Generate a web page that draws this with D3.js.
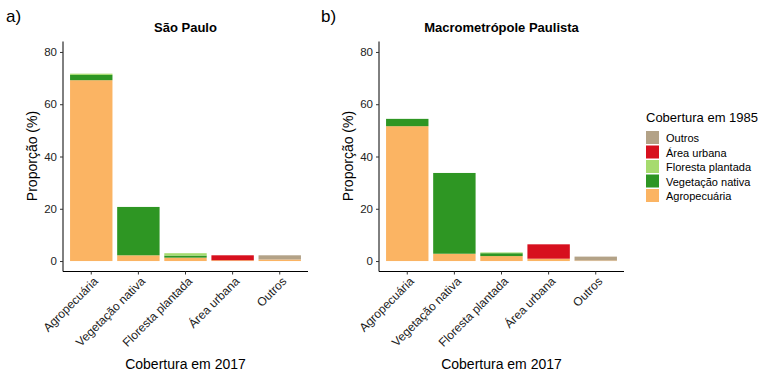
<!DOCTYPE html>
<html><head><meta charset="utf-8">
<script src="https://cdn.jsdelivr.net/npm/d3@7"></script>
<style>body{margin:0;background:#fff;} text{font-family:"Liberation Sans",Arial,sans-serif;}</style>
</head><body><svg id="c" width="780" height="380"></svg>
<script>
const categories = ["Agropecuária","Vegetação nativa","Floresta plantada","Área urbana","Outros"];
const stackKeys = ["Agropecuária","Vegetação nativa","Floresta plantada","Área urbana","Outros"];
const legendOrder = ["Outros","Área urbana","Floresta plantada","Vegetação nativa","Agropecuária"];
const colors = ["#FBB463","#2E9623","#A6DB6E","#D7101E","#B3A287"];
// values per 2017 category: [Agropecuária, Vegetação nativa, Floresta plantada, Área urbana, Outros] in 1985
const saoPaulo = [
  [69.2, 2.0, 0.5, 0, 0],
  [2.2, 18.5, 0, 0, 0],
  [1.3, 0.8, 0.9, 0, 0],
  [0.3, 0, 0, 1.9, 0],
  [0.6, 0, 0, 0, 1.6]
];
const macrometropole = [
  [51.6, 2.8, 0, 0, 0],
  [2.8, 30.9, 0, 0, 0],
  [1.9, 1.1, 0.3, 0, 0],
  [0.9, 0, 0, 5.5, 0],
  [0.2, 0, 0, 0, 1.5]
];
const yTicks = [0, 20, 40, 60, 80];

const svg = d3.select("#c");
const color = d3.scaleOrdinal().domain(stackKeys).range(colors);

function panel(x0, x1, title, tag, tagX, data) {
  const y = d3.scaleLinear().domain([-4, 84]).range([271.5, 41.5]);
  const x = d3.scaleBand().domain(categories).range([x0 + 4.7, x1 - 4.7]).paddingInner(0.1).paddingOuter(0.05);
  const rows = categories.map((c, i) => { const o = {cat: c}; stackKeys.forEach((k, j) => o[k] = data[i][j]); return o; });
  const series = d3.stack().keys(stackKeys)(rows);
  const g = svg.append("g");
  g.selectAll("g.s").data(series).join("g").attr("fill", d => color(d.key))
    .selectAll("rect").data(d => d).join("rect")
    .attr("x", d => x(d.data.cat)).attr("width", x.bandwidth())
    .attr("y", d => y(d[1])).attr("height", d => Math.max(0, y(d[0]) - y(d[1])));
  const ya = g.append("g").attr("transform", `translate(${x0},0)`)
    .call(d3.axisLeft(y).tickValues(yTicks).tickSize(3).tickPadding(3));
  ya.select(".domain").attr("d", `M0,${y(84)}V${y(-4)}`).attr("stroke", "#000");
  ya.selectAll("text").attr("font-size", 11.5).attr("fill", "#222");
  ya.selectAll("line").attr("stroke", "#333");
  const xa = g.append("g").attr("transform", `translate(0,${y(-4)})`)
    .call(d3.axisBottom(x).tickSize(3).tickPadding(2));
  xa.select(".domain").attr("d", `M${x0},0H${x1}`).attr("stroke", "#000");
  xa.selectAll("line").attr("stroke", "#333");
  xa.selectAll("text").attr("font-size", 12).attr("fill", "#222")
    .attr("text-anchor", "end").attr("dy", null)
    .attr("transform", "translate(4,7) rotate(-45)");
  g.append("text").attr("x", (x0 + x1) / 2).attr("y", 32).attr("text-anchor", "middle")
    .attr("font-size", 13).attr("font-weight", "bold").text(title);
  g.append("text").attr("x", (x0 + x1) / 2).attr("y", 369).attr("text-anchor", "middle")
    .attr("font-size", 14).text("Cobertura em 2017");
  g.append("text").attr("transform", `translate(${x0 - 26},156) rotate(-90)`).attr("text-anchor", "middle")
    .attr("font-size", 14).text("Proporção (%)");
  g.append("text").attr("x", tagX).attr("y", 22).attr("font-size", 17).text(tag);
}
panel(63, 308, "São Paulo", "a)", 6, saoPaulo);
panel(379, 624, "Macrometrópole Paulista", "b)", 321, macrometropole);

const lg = svg.append("g");
lg.append("text").attr("x", 646).attr("y", 122).attr("font-size", 13).text("Cobertura em 1985");
legendOrder.forEach((k, i) => {
  lg.append("rect").attr("x", 646).attr("y", 131 + i*14.5).attr("width", 13).attr("height", 13).attr("fill", color(k));
  lg.append("text").attr("x", 666).attr("y", 142 + i*14.5).attr("font-size", 11).text(k);
});
</script></body></html>
